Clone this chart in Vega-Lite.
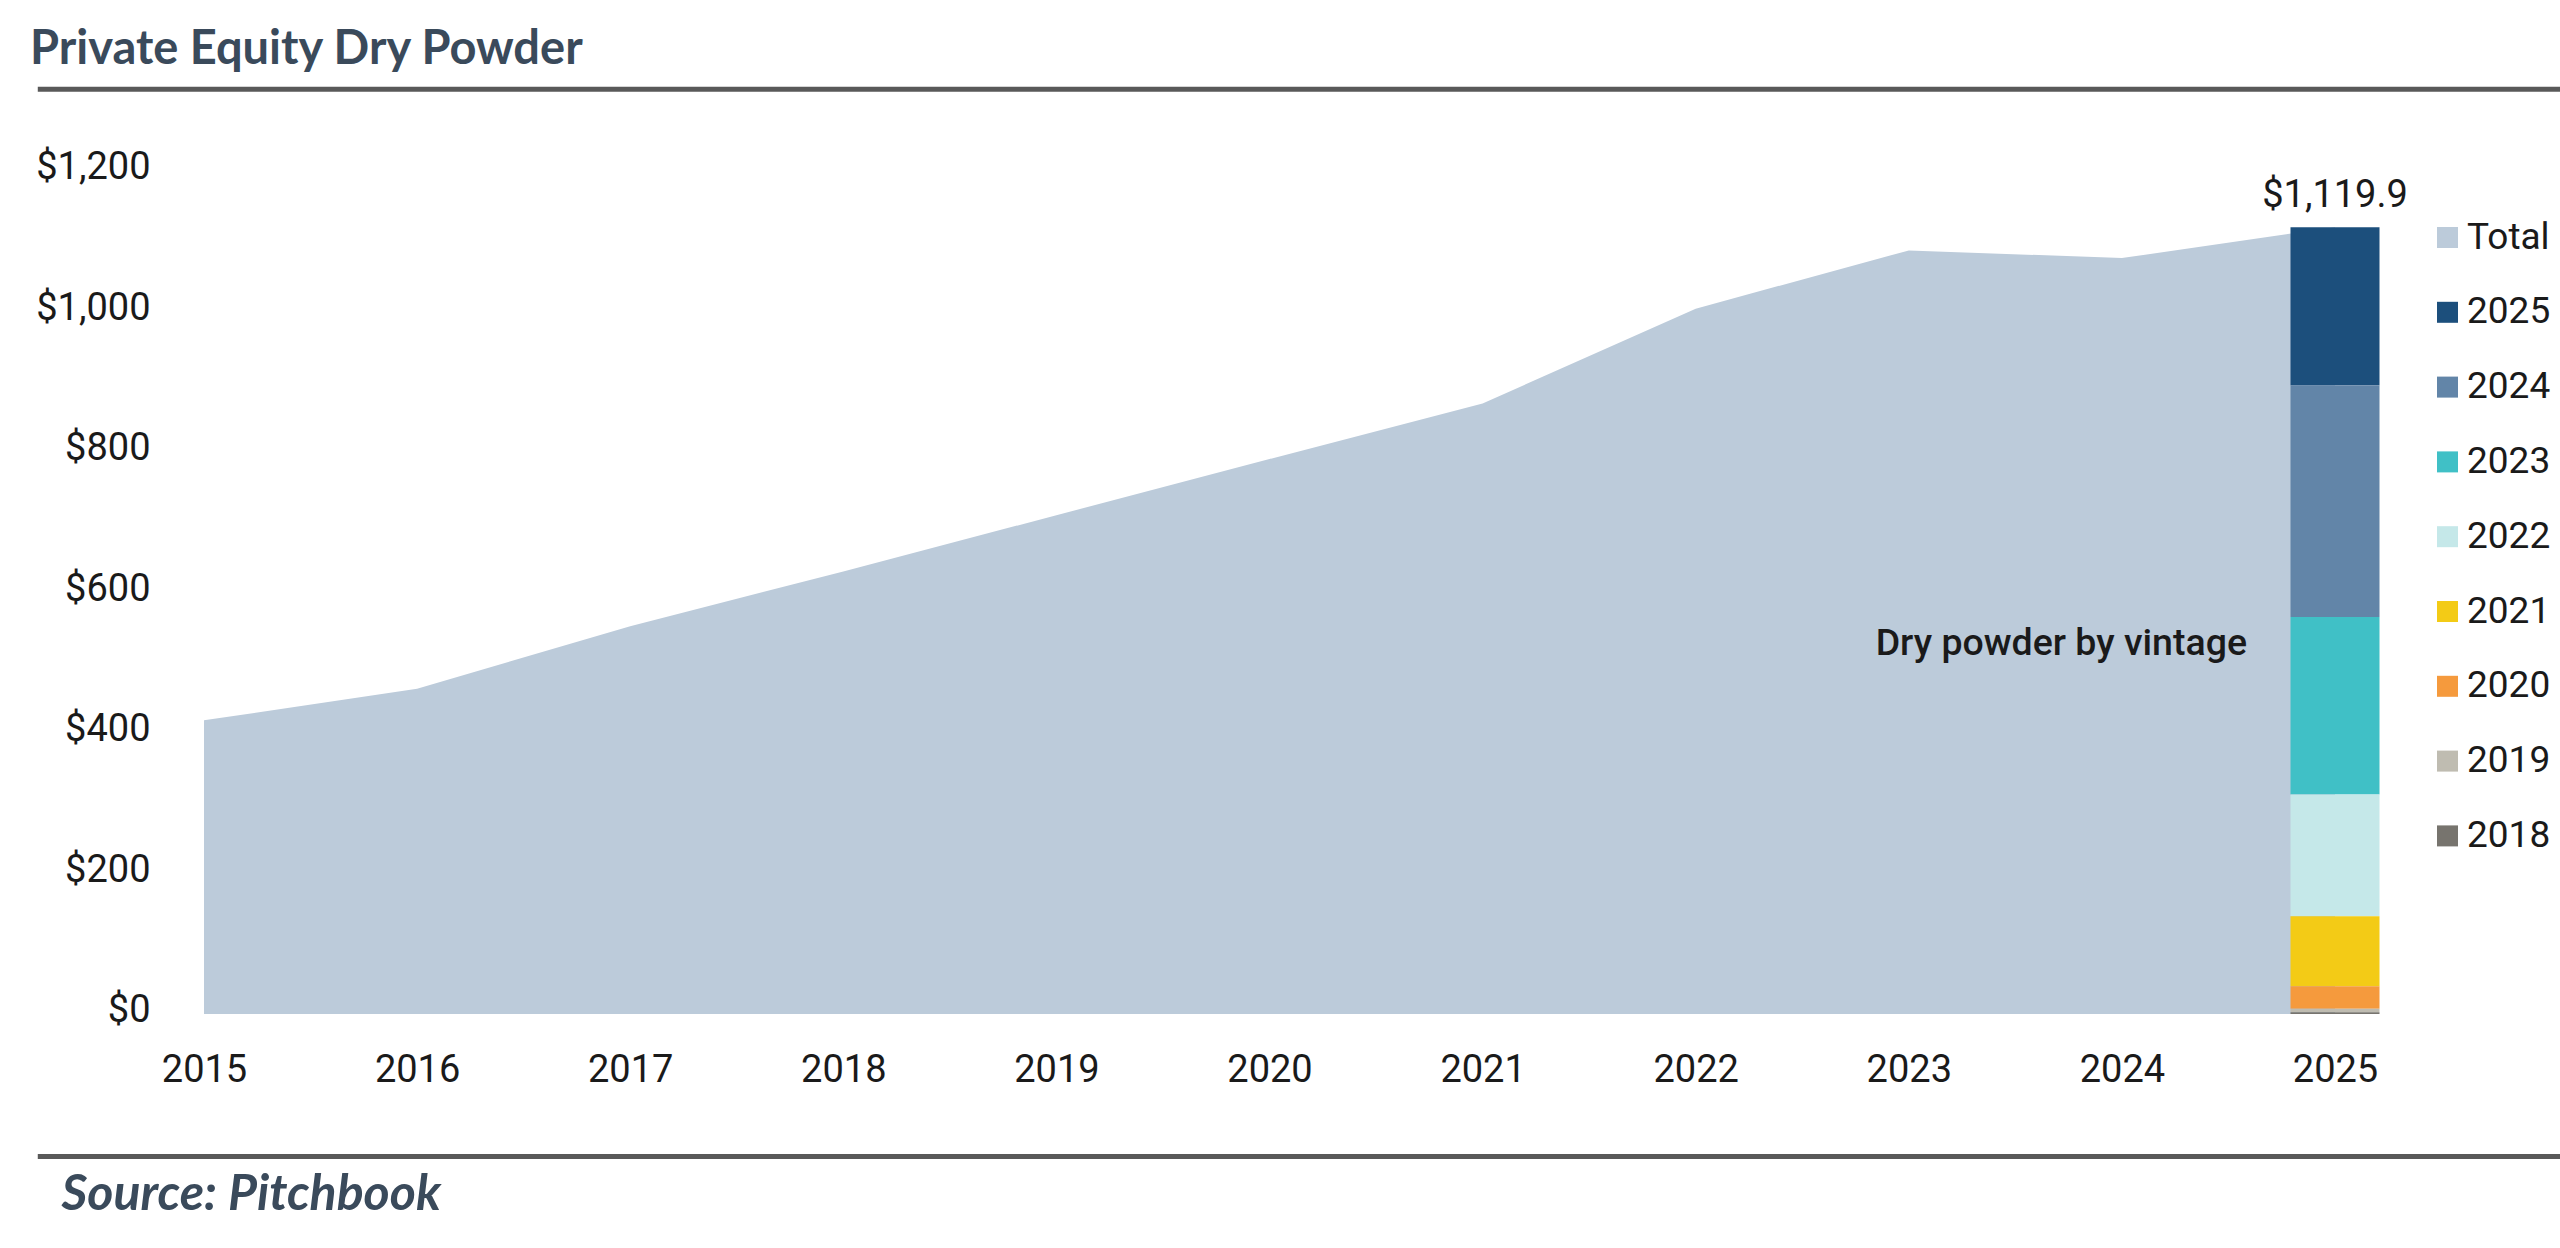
{
  "$schema": "https://vega.github.io/schema/vega-lite/v6.json",
  "width": 2141,
  "height": 843,
  "autosize": {"type": "none"},
  "padding": {"left": 199, "top": 171, "right": 220, "bottom": 234},
  "background": "white",
  "title": {
    "text": "Private Equity Dry Powder",
    "anchor": "start",
    "frame": "group",
    "baseline": "alphabetic",
    "dx": -169,
    "offset": -24,
    "font": "Lato",
    "fontSize": 47,
    "fontWeight": "bold",
    "color": "#3a4a5b"
  },
  "datasets": {
    "total": [
      {"year": 2015, "value": 418},
      {"year": 2016, "value": 463},
      {"year": 2017, "value": 552},
      {"year": 2018, "value": 630},
      {"year": 2019, "value": 710},
      {"year": 2020, "value": 790},
      {"year": 2021, "value": 869},
      {"year": 2022, "value": 1004},
      {"year": 2023, "value": 1087},
      {"year": 2024, "value": 1076},
      {"year": 2025, "value": 1119.9}
    ],
    "vintage": [
      {"year": 2025, "vintage": "2025", "value": 224.9},
      {"year": 2025, "vintage": "2024", "value": 329.7},
      {"year": 2025, "vintage": "2023", "value": 252.9},
      {"year": 2025, "vintage": "2022", "value": 173.2},
      {"year": 2025, "vintage": "2021", "value": 99.6},
      {"year": 2025, "vintage": "2020", "value": 32.2},
      {"year": 2025, "vintage": "2019", "value": 5.0},
      {"year": 2025, "vintage": "2018", "value": 2.4}
    ]
  },
  "layer": [
    {
      "data": {"name": "total"},
      "mark": {"type": "area", "opacity": 1},
      "encoding": {
        "x": {
          "field": "year",
          "type": "quantitative",
          "title": "Source: Pitchbook",
          "scale": {"domain": [2015, 2025], "nice": false, "zero": false},
          "axis": {"values": [2015, 2016, 2017, 2018, 2019, 2020, 2021, 2022, 2023, 2024, 2025]}
        },
        "y": {
          "field": "value",
          "type": "quantitative",
          "title": null,
          "scale": {"domain": [0, 1200], "nice": false},
          "axis": {"values": [0, 200, 400, 600, 800, 1000, 1200]}
        },
        "color": {
          "datum": "Total",
          "type": "nominal",
          "scale": {
            "domain": ["Total", "2025", "2024", "2023", "2022", "2021", "2020", "2019", "2018"],
            "range": ["#bccbda", "#1c4f7c", "#6285a8", "#40c0c6", "#c5e8e9", "#f3cb16", "#f59a3d", "#bfbcb1", "#77746e"]
          },
          "legend": {
            "orient": "none",
            "legendX": 2230,
            "legendY": 48,
            "direction": "vertical",
            "title": null
          }
        }
      }
    },
    {
      "data": {"name": "vintage"},
      "mark": {"type": "bar", "width": 89},
      "encoding": {
        "x": {"field": "year", "type": "quantitative", "title": "Source: Pitchbook"},
        "y": {"field": "value", "type": "quantitative", "stack": "zero", "title": null},
        "color": {
          "field": "vintage",
          "type": "nominal",
          "legend": {
            "orient": "none",
            "legendX": 2230,
            "legendY": 48,
            "direction": "vertical",
            "title": null
          }
        },
        "order": {"field": "vintage", "type": "ordinal", "sort": "ascending"}
      }
    },
    {
      "data": {"name": "total"},
      "transform": [{"filter": "datum.year == 2025"}],
      "mark": {
        "type": "text",
        "baseline": "alphabetic",
        "align": "center",
        "dy": -20,
        "font": "Roboto",
        "fontSize": 38,
        "color": "#1a1a1a"
      },
      "encoding": {
        "x": {"field": "year", "type": "quantitative", "title": "Source: Pitchbook"},
        "y": {"field": "value", "type": "quantitative", "title": null},
        "text": {"field": "value", "type": "quantitative", "format": "$,.1f"}
      }
    },
    {
      "data": {"values": [{"note": "Dry powder by vintage"}]},
      "mark": {
        "type": "text",
        "align": "right",
        "baseline": "middle",
        "dx": -88,
        "font": "Roboto",
        "fontSize": 37.5,
        "fontWeight": 500,
        "color": "#1a1a1a"
      },
      "encoding": {
        "x": {"datum": 2025, "type": "quantitative", "title": "Source: Pitchbook"},
        "y": {"datum": 527, "type": "quantitative", "title": null},
        "text": {"field": "note", "type": "nominal"}
      }
    },
    {
      "data": {"values": [{}]},
      "mark": {"type": "rule", "stroke": "#595959", "strokeWidth": 5},
      "encoding": {
        "x": {"datum": 2014.22, "type": "quantitative", "title": "Source: Pitchbook"},
        "x2": {"datum": 2026.1},
        "y": {"datum": 1316.5, "type": "quantitative", "title": null}
      }
    },
    {
      "data": {"values": [{}]},
      "mark": {"type": "rule", "stroke": "#595959", "strokeWidth": 5},
      "encoding": {
        "x": {"datum": 2014.22, "type": "quantitative", "title": "Source: Pitchbook"},
        "x2": {"datum": 2026.1},
        "y": {"datum": -202.8, "type": "quantitative", "title": null}
      }
    }
  ],
  "config": {
    "view": {"stroke": null},
    "axisX": {
      "format": "d",
      "grid": false,
      "ticks": false,
      "tickSize": 0,
      "domain": false,
      "labelFlush": false,
      "labelOverlap": false,
      "labelBaseline": "middle",
      "labelPadding": 56,
      "labelFont": "Roboto",
      "labelFontSize": 38,
      "labelColor": "#1a1a1a",
      "titleX": -138,
      "titleY": 195,
      "titleAlign": "left",
      "titleAnchor": null,
      "titleBaseline": "alphabetic",
      "titleFont": "Lato",
      "titleFontSize": 50,
      "titleFontWeight": "bold",
      "titleFontStyle": "italic",
      "titleColor": "#3a4a5b"
    },
    "axisY": {
      "format": "$,.0f",
      "grid": false,
      "ticks": false,
      "tickSize": 0,
      "domain": false,
      "labelBaseline": "middle",
      "labelOffset": -3.5,
      "labelPadding": 49,
      "labelFont": "Roboto",
      "labelFontSize": 38,
      "labelColor": "#1a1a1a"
    },
    "legend": {
      "symbolType": "square",
      "symbolSize": 441,
      "symbolStrokeWidth": 0,
      "symbolOpacity": 1,
      "labelFont": "Roboto",
      "labelFontSize": 37,
      "labelColor": "#1a1a1a",
      "labelOffset": 1,
      "rowPadding": 36.8,
      "padding": 0
    }
  }
}
